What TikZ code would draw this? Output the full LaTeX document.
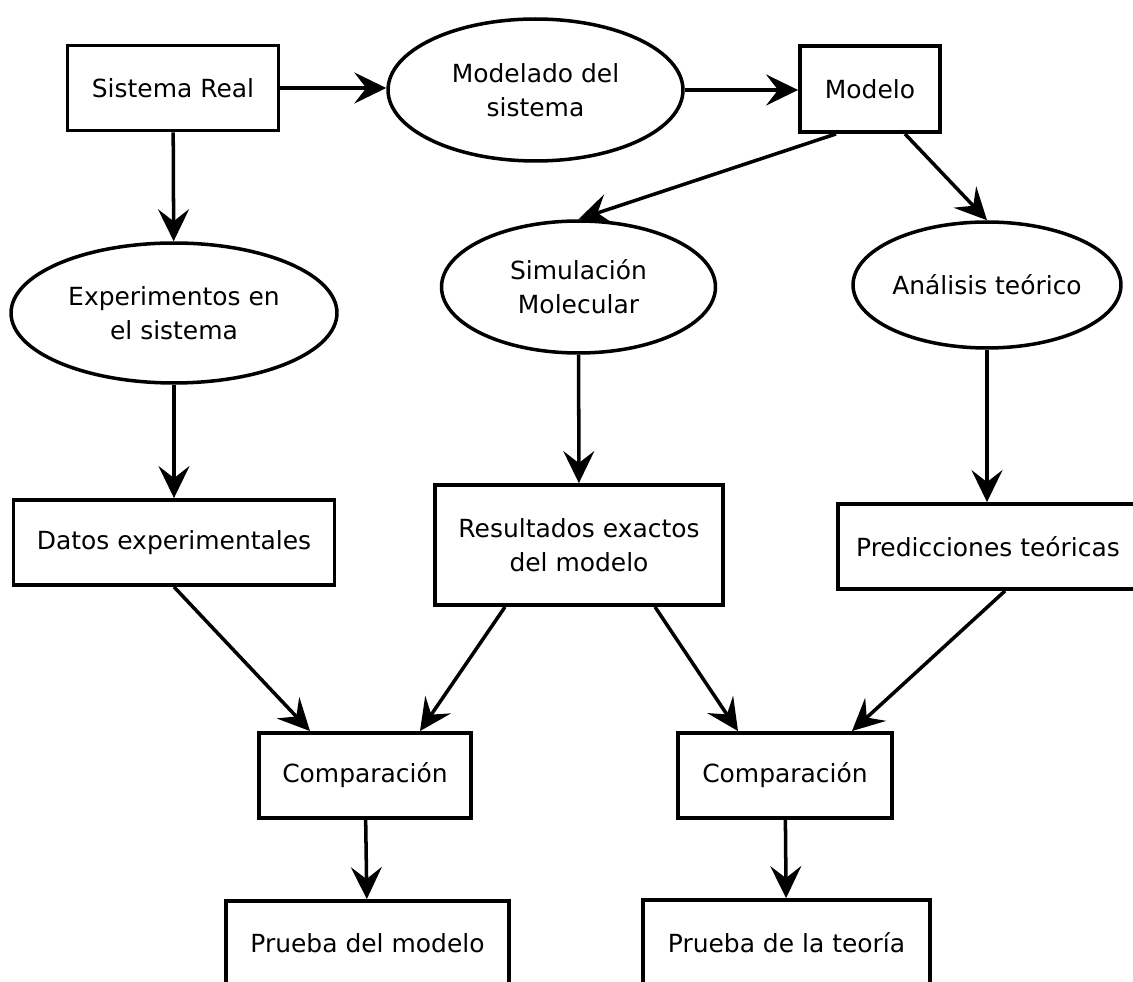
\documentclass[tikz,border=0pt]{standalone}
\usepackage{fontspec}
\setmainfont{DejaVu Sans}
\usetikzlibrary{arrows.meta,shapes.geometric}

\begin{document}
\begin{tikzpicture}[
      x=0.02cm, y=-0.02cm,
      box/.style={draw, line width=2.2pt, align=center, inner sep=0pt, minimum height=1.7cm, font=\fontsize{14.2}{19.5}\selectfont},
      oval/.style={draw, ellipse, line width=2pt, align=center, inner sep=0pt, font=\fontsize{14.2}{19.5}\selectfont},
      arr/.style={-{Stealth[length=0.64cm, width=0.62cm, inset=0.24cm]}, line width=2pt}
    ]
      \clip (0,0) rectangle (1133,982);

      \node[box, minimum width=4.22cm] (real) at (173,88) {Sistema Real};
      \node[oval, minimum width=5.9cm, minimum height=2.84cm] (modelado) at (535.5,90) {Modelado del\\sistema};
      \node[box, minimum width=2.8cm, minimum height=1.72cm] (modelo) at (870,89) {Modelo};

      \node[oval, minimum width=6.52cm, minimum height=2.8cm] (exper) at (174,313) {Experimentos en\\el sistema};
      \node[oval, minimum width=5.48cm, minimum height=2.64cm] (simul) at (578.5,287) {Simulación\\Molecular};
      \node[oval, minimum width=5.28cm, minimum height=2.52cm] (analisis) at (987,285) {Análisis teórico};

      \node[box, minimum width=6.42cm] (datos) at (174,542.5) {Datos experimentales};
      \node[box, minimum width=5.76cm, minimum height=2.4cm] (result) at (579,545) {Resultados exactos\\del modelo};
      \node[box, minimum width=6cm] (predic) at (988,546.5) {Predicciones teóricas};

      \node[box, minimum width=4.24cm] (compmod) at (365,775.5) {Comparación};
      \node[box, minimum width=4.28cm] (compteo) at (785,775.5) {Comparación};

      \node[box, minimum width=5.66cm] (pmodelo) at (367.5,943.5) {Prueba del modelo};
      \node[box, minimum width=5.74cm] (pteoria) at (786.5,942.5) {Prueba de la teoría};

      \draw[arr] (real.east) -- (real.east -| modelado.west);
      \draw[arr] (modelado.east) -- (modelado.east -| modelo.west);
      \draw[arr] (real) -- (exper);
      \draw[arr] ([xshift=-0.68cm]modelo.south) -- (simul.north);
      \draw[arr] ([xshift=0.7cm]modelo.south) -- (analisis.north);

      \draw[arr] (exper) -- (datos);
      \draw[arr] (simul) -- (result);
      \draw[arr] (analisis.south) -- (predic.north -| analisis.south);

      \draw[arr] (datos.south) -- ([xshift=-1.1cm]compmod.north);
      \draw[arr] ([xshift=-1.48cm]result.south) -- ([xshift=1.1cm]compmod.north);
      \draw[arr] ([xshift=1.52cm]result.south) -- ([xshift=-0.94cm]compteo.north);
      \draw[arr] ([xshift=0.34cm]predic.south) -- ([xshift=1.34cm]compteo.north);

      \draw[arr] (compmod) -- (pmodelo);
      \draw[arr] (compteo) -- (pteoria);
    \end{tikzpicture}
\end{document}
